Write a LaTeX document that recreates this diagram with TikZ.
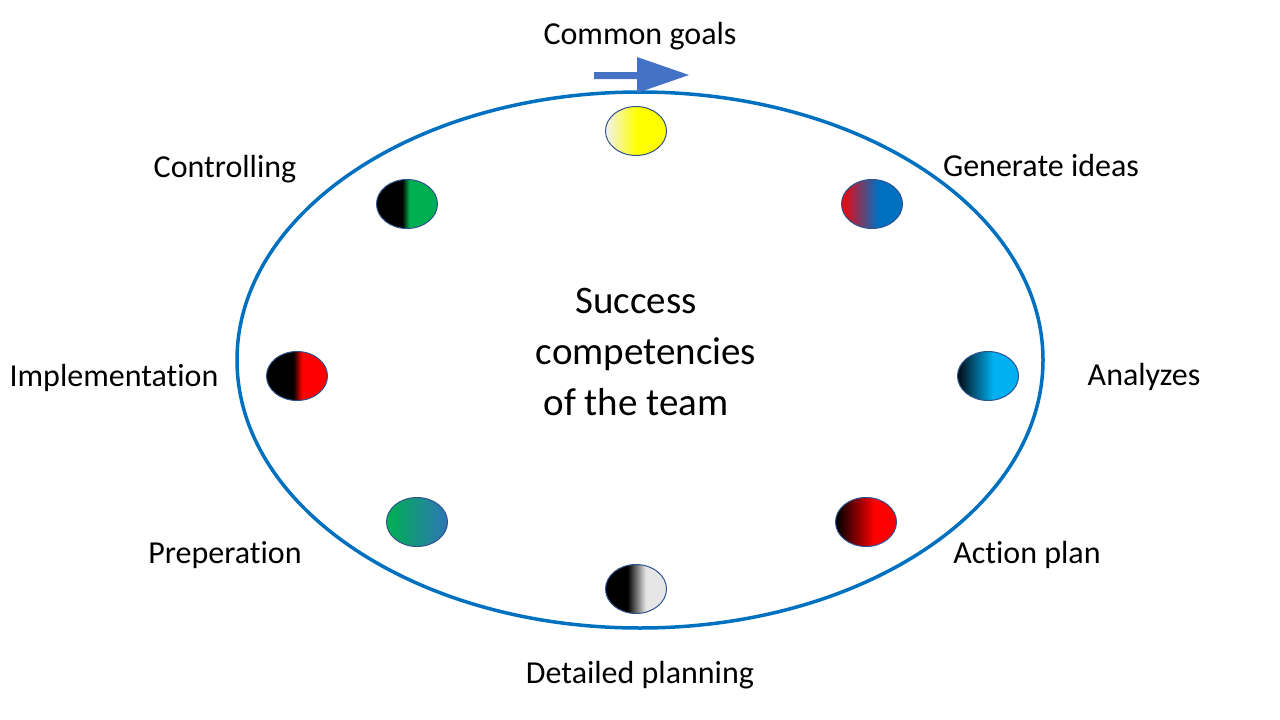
\documentclass[tikz,border=0pt]{standalone}
\usepackage{fontspec}
\setmainfont{Carlito}[Ligatures=NoCommon, RawFeature={-liga}]
\usetikzlibrary{shapes.geometric}
\definecolor{ringblue}{RGB}{0,112,192}
\definecolor{arrblue}{RGB}{68,114,196}
\definecolor{edgeblue}{RGB}{47,82,143}
\definecolor{ygl}{RGB}{242,242,242}
\definecolor{ylw}{RGB}{255,255,0}
\definecolor{grn}{RGB}{0,176,80}
\definecolor{rd}{RGB}{255,0,0}
\definecolor{rd2}{RGB}{230,10,20}
\definecolor{bl}{RGB}{0,112,192}
\definecolor{cy}{RGB}{0,176,240}
\definecolor{bl2}{RGB}{46,117,182}
\definecolor{lg}{RGB}{230,230,230}
\definecolor{dk}{RGB}{5,15,25}
\pgfdeclarehorizontalshading{shgoal}{100bp}{color(0bp)=(ygl); color(25bp)=(ygl); color(51bp)=(ylw); color(100bp)=(ylw)}
\pgfdeclarehorizontalshading{shctrl}{100bp}{color(0bp)=(black); color(46bp)=(black); color(52bp)=(grn); color(100bp)=(grn)}
\pgfdeclarehorizontalshading{shgen}{100bp}{color(0bp)=(rd2); color(27bp)=(rd2); color(55bp)=(bl); color(100bp)=(bl)}
\pgfdeclarehorizontalshading{shimpl}{100bp}{color(0bp)=(black); color(47bp)=(black); color(54bp)=(rd); color(100bp)=(rd)}
\pgfdeclarehorizontalshading{shana}{100bp}{color(0bp)=(dk); color(26bp)=(dk); color(54bp)=(cy); color(100bp)=(cy)}
\pgfdeclarehorizontalshading{shprep}{100bp}{color(0bp)=(grn); color(25bp)=(grn); color(75bp)=(bl2); color(100bp)=(bl2)}
\pgfdeclarehorizontalshading{shact}{100bp}{color(0bp)=(black); color(26bp)=(black); color(57bp)=(rd); color(100bp)=(rd)}
\pgfdeclarehorizontalshading{shdet}{100bp}{color(0bp)=(black); color(43bp)=(black); color(58bp)=(lg); color(100bp)=(lg)}
\tikzset{
  ring/.style={draw=ringblue, line width=3.5pt},
  dot/.style={ellipse, minimum width=61pt, minimum height=49pt, inner sep=0pt, draw=edgeblue, line width=1pt},
  lab/.style={font=\fontsize{32}{38}\selectfont, inner sep=0pt, anchor=center},
  core/.style={font=\fontsize{39}{51}\selectfont, align=center, inner sep=0pt}
}
\begin{document}
\begin{tikzpicture}[x=1pt, y=-1pt]
\useasboundingbox (0,0) rectangle (1280,720);
\draw[ring] (640,360) ellipse [x radius=403, y radius=268];
% direction arrow
\fill[arrblue] (594,72) -- (637,72) -- (637,57) -- (689,75) -- (637,93) -- (637,79) -- (594,79) -- cycle;
% dots
\node[dot, shading=shgoal] (dgoal) at (636,131) {};
\node[dot, shading=shctrl] (dctrl) at (407,204) {};
\node[dot, shading=shgen]  (dgen)  at (872,204) {};
\node[dot, shading=shimpl] (dimpl) at (297,376) {};
\node[dot, shading=shana]  (dana)  at (988,376) {};
\node[dot, shading=shprep] (dprep) at (417,522) {};
\node[dot, shading=shact]  (dact)  at (866,522) {};
\node[dot, shading=shdet]  (ddet)  at (636,589) {};
% labels
\node[lab] (lgoal) at (640,36) {Common goals};
\node[lab] (lgen)  at (1041,166) {Generate ideas};
\node[lab] (lctrl) at (225,169) {Controlling};
\node[lab] (lana)  at (1144,377) {Analyzes};
\node[lab] (limpl) at (114,378) {Implementation};
\node[lab] (lprep) at (225,555) {Preperation};
\node[lab] (lact)  at (1027,555) {Action plan};
\node[lab] (ldet)  at (640,675) {Detailed planning};
\node[core] (center) at (636,352) {Success\\\hspace*{20pt}competencies\\of the team};
\end{tikzpicture}
\end{document}
